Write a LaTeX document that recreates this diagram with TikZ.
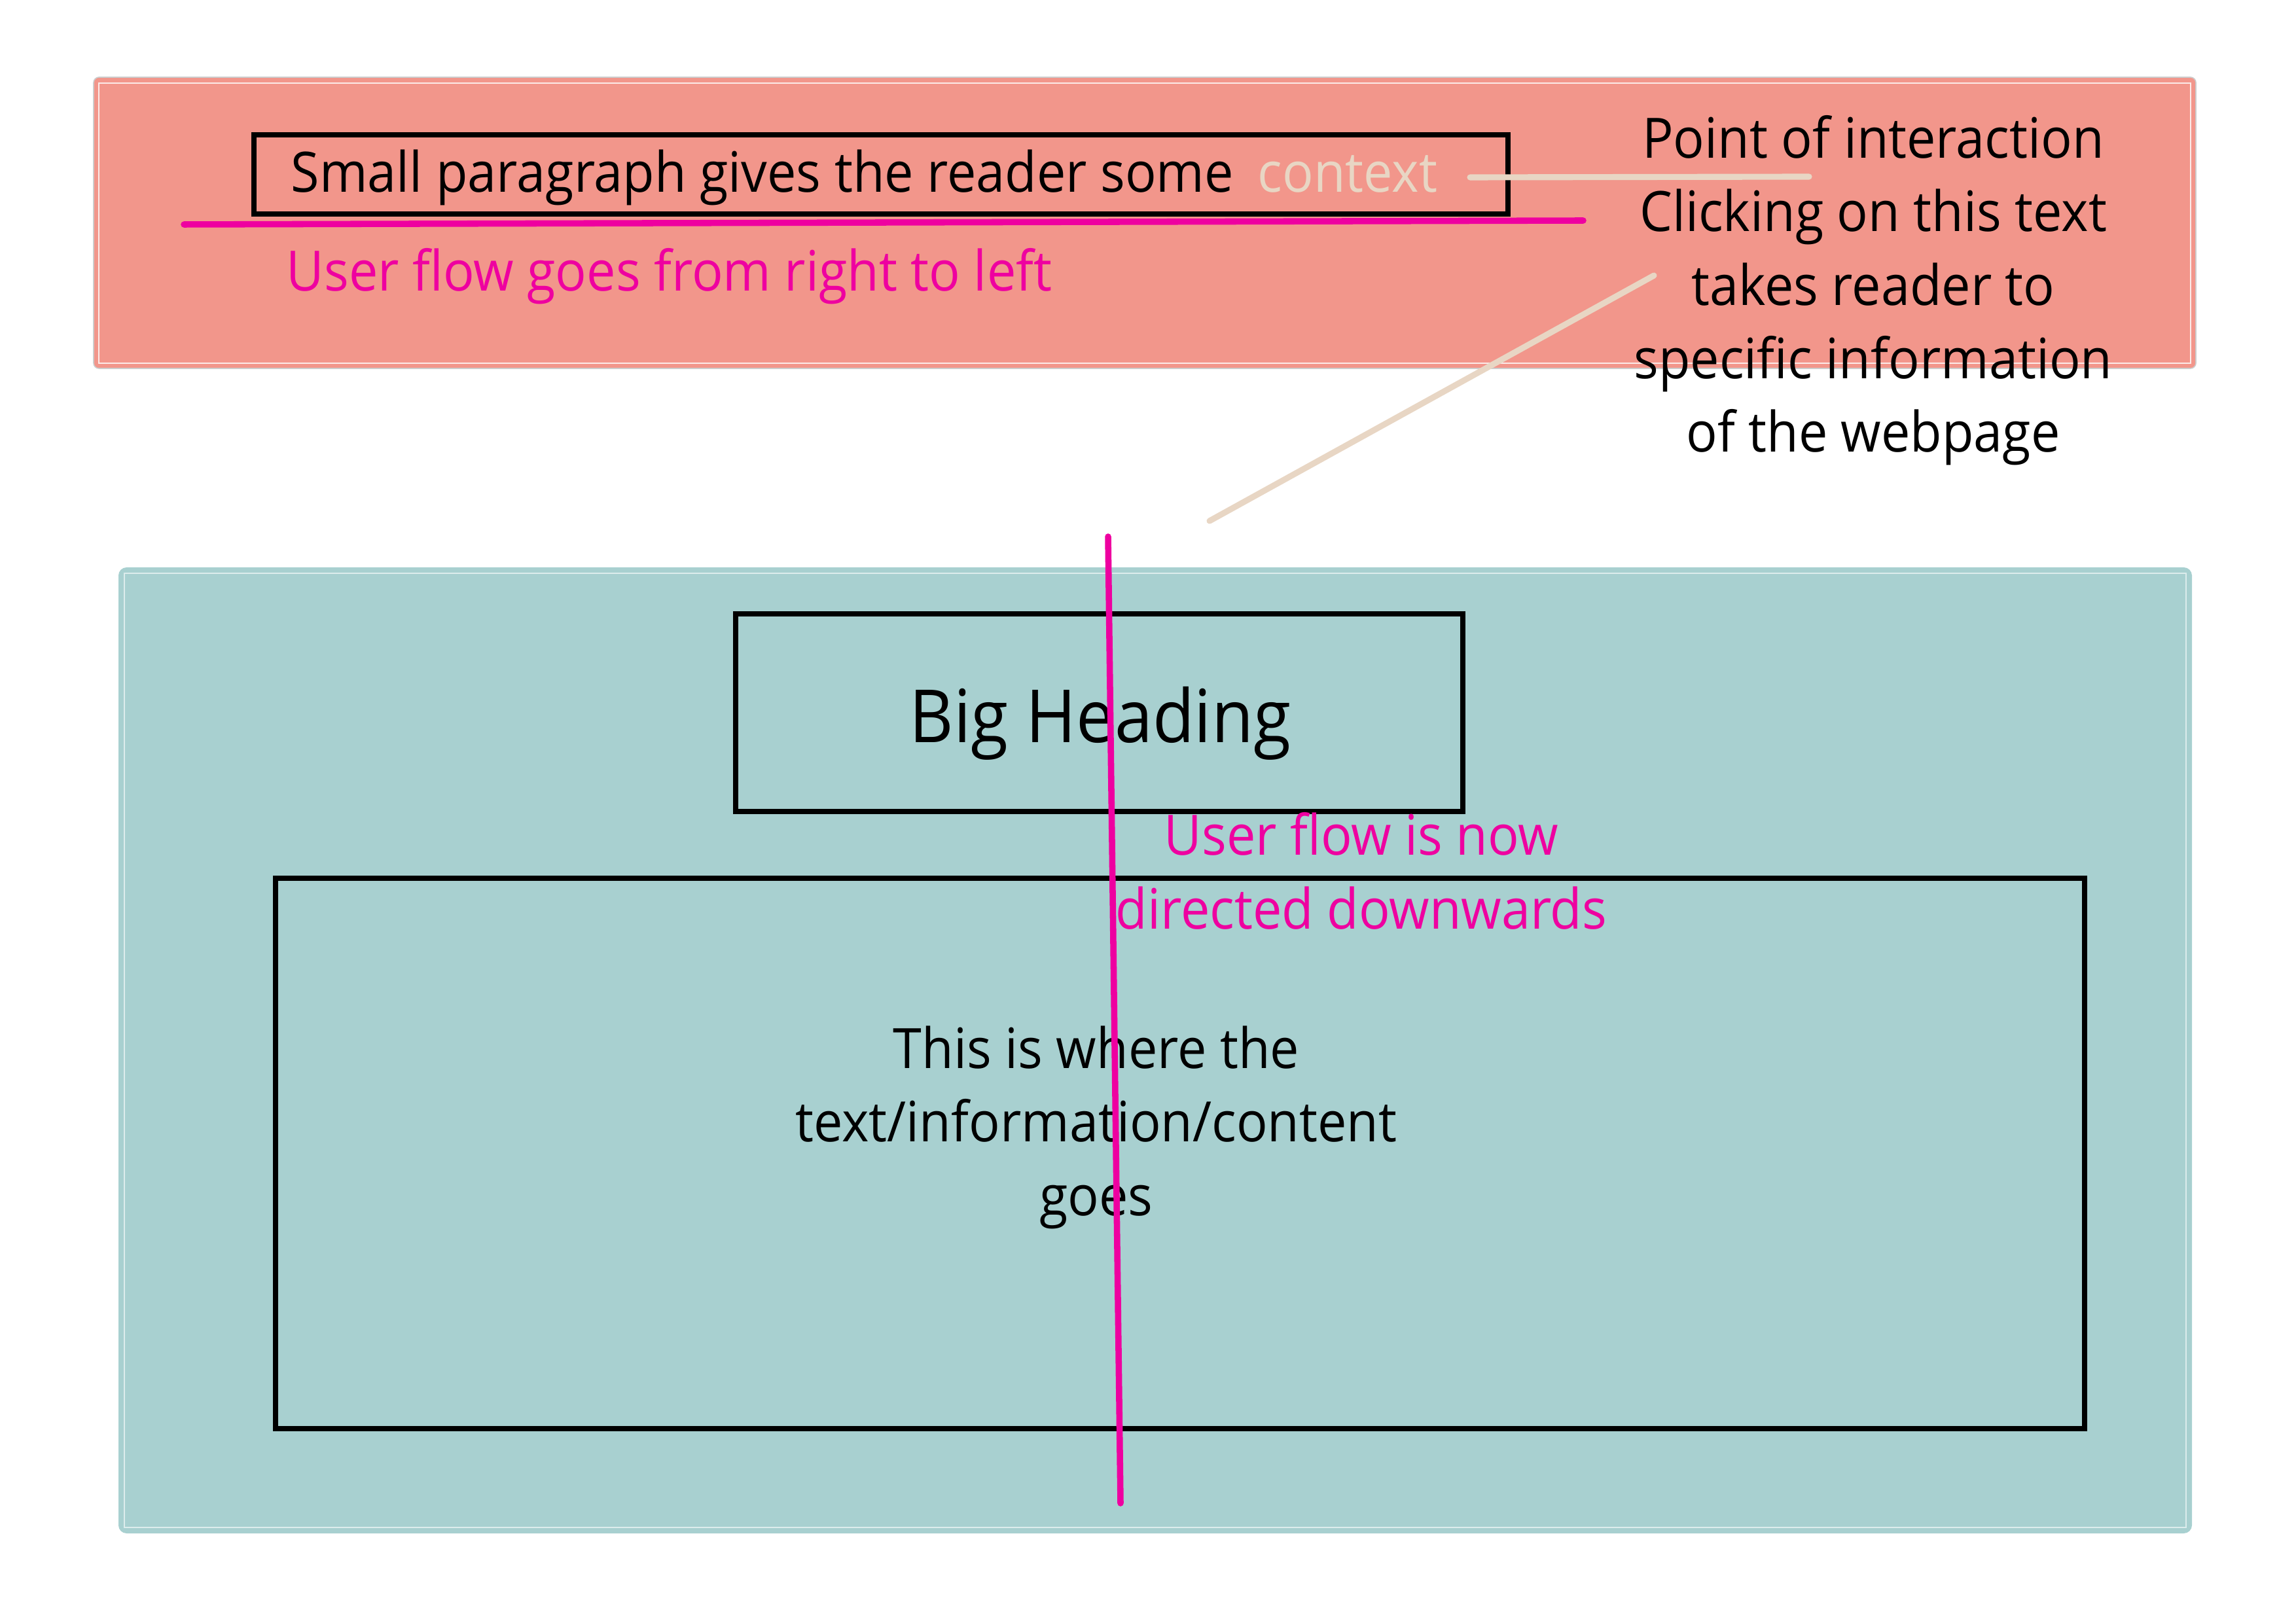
\documentclass[tikz,border=0pt]{standalone}
\usepackage{fontspec}
\setmainfont{Open Sans}[FakeStretch=0.93]
\definecolor{salmon}{HTML}{F2968B}
\definecolor{panelteal}{HTML}{A8D0D0}
\definecolor{flowpink}{HTML}{EE00A0}
\definecolor{beige}{HTML}{E8D6C4}
\def\toppanel{(143,118) rectangle (3355,563)}
\def\bottompanel{(181,867) rectangle (3349,2343)}
\def\bodytext{\fontsize{20.5}{27.1}\selectfont}

\begin{document}
\begin{tikzpicture}[x=0.0846667mm,y=-0.0846667mm,
    box/.style={draw=black,line width=2.1pt},
    flow/.style={draw=flowpink,line width=2.3pt,line cap=round},
    link/.style={draw=beige,line width=2.2pt,line cap=round}]
\useasboundingbox (0,0) rectangle (3508,2480);
\fill[salmon,draw=gray!40,line width=0.4pt,rounded corners=2pt] \toppanel;
\draw[white!80!salmon,line width=0.7pt] (151,127) rectangle (3347,555);
\fill[panelteal,rounded corners=3pt] \bottompanel;
\draw[white!60!panelteal,line width=0.5pt] (190,876) rectangle (3340,2334);
\draw[box] (388,206) rectangle (2304,327);
\node[anchor=base west,inner sep=0pt,font=\bodytext] (para) at (444,294) {Small paragraph gives the reader some};
\node[anchor=base west,inner sep=0pt,font=\bodytext,text=beige] (ctx) at (1921,294) {context};
\node[anchor=base west,inner sep=0pt,font=\bodytext,text=flowpink] (leftflow) at (437,445) {User flow goes from right to left};
\node[anchor=base,inner sep=0pt,font=\bodytext,align=center] (interact) at (2862,691) {Point of interaction\\Clicking on this text\\takes reader to\\specific information\\of the webpage};
\coordinate (flowa) at (281,343);
\coordinate (flowb) at (2419,337);
\draw[flow] (flowa) -- (flowb);
\coordinate (ctxa) at (2246,271);
\coordinate (ctxb) at (2764,270);
\draw[link] (ctxa) -- (ctxb);
\coordinate (jumpa) at (2527,421);
\coordinate (jumpb) at (1848,796);
\draw[link] (jumpa) -- (jumpb);
\draw[box] (1124,938) rectangle (2235,1240);
\node[anchor=base,inner sep=0pt,font=\fontsize{27}{32}\selectfont] (heading) at (1681,1135) {Big Heading};
\draw[box] (421,1342) rectangle (3185,2183);
\node[anchor=base,inner sep=0pt,font=\bodytext,align=center] (content) at (1675,1857) {This is where the\\text/information/content\\goes};
\node[anchor=base,inner sep=0pt,font=\bodytext,text=flowpink,align=center] (downflow) at (2080,1419) {User flow is now\\directed downwards};
\coordinate (downa) at (1693,820);
\coordinate (downb) at (1712,2297);
\draw[flow] (downa) -- (downb);
\end{tikzpicture}
\end{document}
